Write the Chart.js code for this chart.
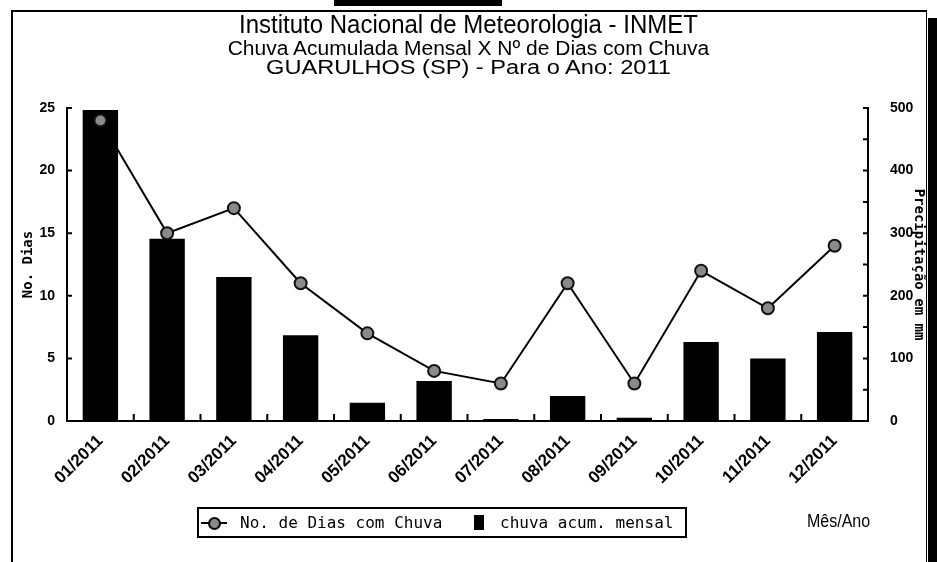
<!DOCTYPE html>
<html>
<head>
<meta charset="utf-8">
<script src="https://cdn.jsdelivr.net/npm/chart.js@4/dist/chart.umd.min.js"></script>
<style>
  html, body { margin: 0; padding: 0; background: #fff; }
  #wrap { position: relative; width: 937px; height: 562px; overflow: hidden; }
  #c { position: absolute; left: 0; top: 0; }
  .frame { position: absolute; left: 11px; top: 10px; width: 913px; height: 560px;
           border-left: 2px solid #000; border-top: 2px solid #000; border-right: 1px solid #000; }
  .band { position: absolute; left: 928px; top: 18px; width: 9px; height: 544px; background: #000; }
  .topblock { position: absolute; left: 334px; top: 0; width: 168px; height: 6px; background: #000; }
  .t { position: absolute; left: 0; width: 937px; text-align: center; font-family: 'Liberation Sans', Arial, sans-serif;
       color: #000; white-space: nowrap; }
  #t1 { top: 10px; font-size: 24px; transform: scale(1.0, 1.1); }
  #t2 { top: 37px; font-size: 20px; transform: scale(1.05, 1.0); }
  #t3 { top: 56px; font-size: 20px; transform: scale(1.18, 1.0); }
  #legend { position: absolute; left: 197px; top: 507px; width: 490px; height: 31px;
            border: 2px solid #000; box-sizing: border-box;
            font-family: 'DejaVu Sans Mono', 'Liberation Mono', monospace; font-size: 16px; color: #000; }
  #legend .txt { position: absolute; top: 4px; }
  #legend .ln { position: absolute; left: 2px; top: 13px; width: 26px; height: 2px; background: #000; }
  #legend .pt { position: absolute; left: 9px; top: 8px; width: 9px; height: 9px; border: 2px solid #000;
                border-radius: 50%; background: #888; }
  #legend .sq { position: absolute; left: 275px; top: 6px; width: 10px; height: 15px; background: #000; }
  #mes { position: absolute; left: 807px; top: 512px; font-family: 'Liberation Sans', Arial, sans-serif;
         font-size: 16px; color: #000; transform: scaleY(1.15); }
</style>
</head>
<body>
<div id="wrap">
  <div class="topblock"></div>
  <div class="frame"></div>
  <div class="band"></div>
  <canvas id="c" width="937" height="562"></canvas>
  <div class="t" id="t1">Instituto Nacional de Meteorologia - INMET</div>
  <div class="t" id="t2">Chuva Acumulada Mensal X Nº de Dias com Chuva</div>
  <div class="t" id="t3">GUARULHOS (SP) - Para o Ano: 2011</div>
  <div id="legend">
    <span class="ln"></span><span class="pt"></span>
    <span class="txt" style="left:41px">No. de Dias com Chuva</span>
    <span class="sq"></span>
    <span class="txt" style="left:301px">chuva acum. mensal</span>
  </div>
  <div id="mes">Mês/Ano</div>
</div>
<script>
// Chuva acumulada mensal x nº de dias com chuva — Guarulhos 2011

const meses       = ['01/2011', '02/2011', '03/2011', '04/2011', '05/2011', '06/2011',
                     '07/2011', '08/2011', '09/2011', '10/2011', '11/2011', '12/2011'];
const diasChuva   = [24, 15, 17, 11, 7, 4, 3, 11, 3, 12, 9, 14];
const chuvaMensal = [497, 291, 230, 137, 29, 64, 3, 40, 5, 126, 100, 142];
const ticksDias   = [0, 5, 10, 15, 20, 25];
const ticksMm     = [0, 100, 200, 300, 400, 500];

const tickFont = { family: "'Liberation Sans', Arial, sans-serif", size: 14, weight: 'bold' };
const monoFont = { family: "'DejaVu Sans Mono', 'Liberation Mono', monospace", size: 14, weight: 'bold' };

// small tick marks drawn inside the plot, like the original
const innerTicks = {
  id: 'innerTicks',
  afterDatasetsDraw(chart) {
    const { ctx, chartArea: a, scales } = chart;
    ctx.save();
    ctx.strokeStyle = '#000';
    ctx.lineWidth = 2;
    ctx.beginPath();
    ticksDias.forEach(v => {
      const y = scales.y.getPixelForValue(v);
      ctx.moveTo(a.left, y); ctx.lineTo(a.left + 5, y);
    });
    for (let v = 0; v <= 500; v += 50) {
      const y = scales.y1.getPixelForValue(v);
      ctx.moveTo(a.right, y); ctx.lineTo(a.right - 5, y);
    }
    for (let i = 1; i < meses.length; i++) {
      const x = (scales.x.getPixelForTick(i - 1) + scales.x.getPixelForTick(i)) / 2;
      ctx.moveTo(x, a.bottom); ctx.lineTo(x, a.bottom - 7);
    }
    ctx.stroke();
    ctx.restore();
  }
};

const ctx = document.getElementById('c').getContext('2d');
new Chart(ctx, {
  type: 'bar',
  data: {
    labels: meses,
    datasets: [
      {
        type: 'line',
        label: 'No. de Dias com Chuva',
        data: diasChuva,
        yAxisID: 'y',
        borderColor: '#000',
        borderWidth: 2,
        tension: 0,
        pointStyle: 'circle',
        pointRadius: 6,
        pointBorderWidth: 2,
        pointBackgroundColor: '#8a8a8a',
        pointBorderColor: '#111',
        order: 0
      },
      {
        label: 'chuva acum. mensal',
        data: chuvaMensal,
        yAxisID: 'y1',
        backgroundColor: '#000',
        categoryPercentage: 1,
        barPercentage: 0.53,
        order: 1
      }
    ]
  },
  options: {
    responsive: false,
    animation: false,
    layout: { padding: { left: 10, right: 10, top: 108, bottom: 66 } },
    plugins: { legend: { display: false }, tooltip: { enabled: false } },
    scales: {
      x: {
        offset: true,
        grid: { display: false },
        border: { color: '#000', width: 2 },
        ticks: { color: '#000', font: { ...tickFont, size: 17 }, minRotation: 45, maxRotation: 45,
                 autoSkip: false, padding: 2 },
        afterFit: s => { s.height = 75; }
      },
      y: {
        position: 'left',
        min: 0, max: 25,
        afterBuildTicks: s => { s.ticks = ticksDias.map(v => ({ value: v })); },
        grid: { display: false },
        border: { color: '#000', width: 2 },
        ticks: { color: '#000', font: tickFont, padding: 4 },
        title: { display: true, text: 'No. Dias', color: '#000', font: monoFont, padding: { top: 10, bottom: 4 } },
        afterFit: s => { s.width = 57; }
      },
      y1: {
        position: 'right',
        min: 0, max: 500,
        afterBuildTicks: s => { s.ticks = ticksMm.map(v => ({ value: v })); },
        grid: { display: false },
        border: { color: '#000', width: 2 },
        ticks: { color: '#000', font: tickFont, padding: 14 },
        title: { display: true, text: 'Precipitação em mm', color: '#000', font: monoFont, padding: { top: 0, bottom: 4 } },
        afterFit: s => { s.width = 59; }
      }
    }
  },
  plugins: [innerTicks]
});
</script>
</body>
</html>
